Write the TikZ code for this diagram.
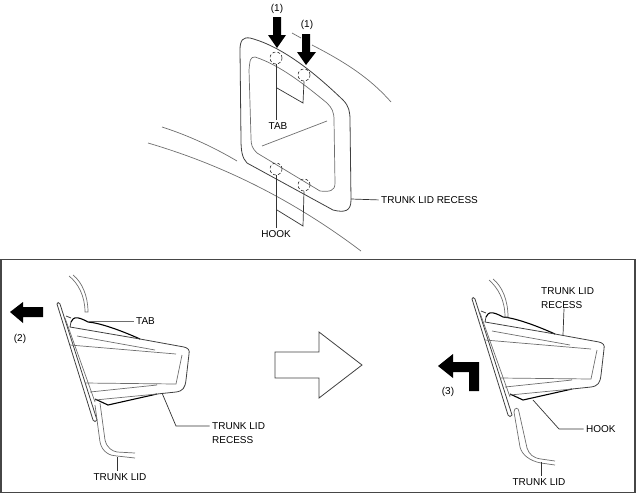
\documentclass[tikz,border=0pt]{standalone}
\usepackage{fontspec}
\setmainfont{Liberation Sans}
\usepackage{xcolor}
\usetikzlibrary{positioning}
\definecolor{lid_line}{RGB}{110, 110, 110}
\definecolor{frame_line}{RGB}{70, 70, 70}
\tikzset{
  lidline/.style={draw=lid_line, line width=0.7pt},
  partline/.style={draw=black!75, line width=0.8pt},
  heavyline/.style={draw=black, line width=1.1pt},
  leader/.style={draw=black!80, line width=0.7pt},
  textleader/.style={leader, shorten >=2.5pt},
  clipmark/.style={draw=black!80, densely dashed, line width=0.6pt},
  blockarrow/.style={fill=black, draw=none},
  lbl/.style={font=\fontsize{10}{12}\selectfont, inner sep=0pt, align=left},
  pics/recesspart/.style={code={
    % Flange
    \draw[partline] (57,304) .. controls (57,302) and (59,302) .. (60,304) -- (97,420)
      .. controls (96,422) and (94,422) .. (93,420) -- cycle;
    \draw[lidline] (65,318) -- (95,402);
    % Recess body
    \draw[heavyline] (71,322) -- (73,319) .. controls (75,317) and (79,317) .. (88,322)
      .. controls (100,323) and (120,330) .. (140,339);
    \draw[partline] (66,316) -- (71,318) (71,322) -- (70,327) -- (140,339) -- (184,347)
      .. controls (188,348) and (190,350) .. (189,354) -- (186,380)
      .. controls (185,388) and (183,391) .. (176,392) -- (157,394);
    \draw[heavyline] (157,394) -- (108,405) -- (95,399);
    \draw[lidline] (77,336) -- (155,350) (70,345) -- (176,354) (182,355) -- (176,384)
      -- (85,383) (90,392) -- (157,385) (95,400) -- (157,394);
  }}
}
\begin{document}
\begin{tikzpicture}[x=1pt, y=-1pt]
  \useasboundingbox (0,0) rectangle (636,496);

  % Trunk lid, upper view
  \draw[lidline] (292,33) -- (301,38);
  \draw[lidline] (312,45) .. controls (345,62) and (370,78) .. (391,102);
  \draw[lidline] (162,127) .. controls (190,136) and (215,148) .. (237,161);
  \draw[lidline] (148,143) .. controls (230,167) and (300,205) .. (361,251);

  % Recess outline
  \draw[partline] (240,50) .. controls (240,40) and (243,37) .. (250,38)
    .. controls (285,47) and (320,78) .. (343,100)
    .. controls (349,106) and (350,112) .. (350,120) -- (351,200)
    .. controls (351,211) and (345,213) .. (333,210)
    -- (247,163) .. controls (242,158) and (241,150) .. (241,140) -- cycle;
  \draw[lidline] (249,70) .. controls (250,60) and (250,57) .. (255,57)
    .. controls (280,65) and (305,85) .. (327,103)
    .. controls (332,108) and (334,112) .. (334,120) -- (335,183)
    .. controls (335,191) and (330,192) .. (320,191)
    -- (257,153) .. controls (252,148) and (251,145) .. (251,138) -- cycle;
  \draw[lidline] (262,146) -- (327,121);

  % Clip marks
  \foreach \n/\x/\y in {ta/276/58, tb/304/75, ha/276/169, hb/304/185} {
    \node[clipmark, circle, minimum size=12pt, inner sep=0pt] (\n) at (\x,\y) {};
  }

  % Push arrows
  \fill[blockarrow] (273,17) -- (281,17) -- (281,35) -- (286,35) -- (277,48) -- (268,35) -- (273,35) -- cycle;
  \fill[blockarrow] (302,34) -- (310,34) -- (310,52) -- (316,52) -- (306,65) -- (297,52) -- (302,52) -- cycle;
  \node[lbl] (pusha) at (277,9) {(1)};
  \node[lbl] (pushb) at (307,25) {(1)};

  % Upper labels
  \node[lbl] (tabtop) at (278,126) {TAB};
  \node[lbl] (hooktop) at (276,234) {HOOK};
  \node[lbl, anchor=west] (recesstop) at (381,200) {TRUNK LID RECESS};
  \coordinate (tabjoin) at (277,88);
  \coordinate (tabbend) at (303,103);
  \coordinate (hookjoin) at (277,210);
  \coordinate (hookbend) at (303,226);
  \coordinate (recessedge) at (351,199);
  \draw[textleader] (ta.south) -- (tabtop.north -| ta.south);
  \draw[leader] (tabjoin) -- (tabbend) -- (tb.south);
  \draw[textleader] (ha.south) -- (hooktop.north -| ha.south);
  \draw[leader] (hookjoin) -- (hookbend) -- (hb.south);
  \draw[textleader] (recessedge) -- (recesstop.west);

  % Frame
  \draw[frame_line, line width=1.3pt] (1,259.5) rectangle (635,492.5);

  % Left view
  \pic at (0,0) {recesspart};
  \draw[lidline] (69,276) .. controls (78,283) and (85,296) .. (85,312) -- (88,312)
    .. controls (88,296) and (82,282) .. (73,275);
  \draw[lidline] (95,405) -- (100,442) .. controls (102,452) and (110,456) .. (117,456) -- (135,458);
  \draw[lidline] (100,403) -- (105,440) .. controls (107,448) and (112,451) .. (117,452) -- (135,453);
  \fill[blockarrow] (10,312) -- (23,302) -- (23,307) -- (43,307) -- (43,317) -- (23,317) -- (23,323) -- cycle;
  \node[lbl] (pull) at (20,339) {(2)};
  \node[lbl, anchor=west] (tableft) at (136,321) {TAB};
  \node[lbl, anchor=west] (recessleft) at (212,433) {TRUNK LID\\[2pt]RECESS};
  \node[lbl] (lidleft) at (120,477) {TRUNK LID};
  \coordinate (tableftedge) at (88,321);
  \coordinate (recessleftedge) at (162,393);
  \coordinate (recessleftbend) at (176,426);
  \coordinate (lidleftedge) at (117,457);
  \draw[lidline, line width=1pt, shorten >=2.5pt] (tableftedge) -- (tableft.west);
  \draw[textleader] (recessleftedge) -- (recessleftbend) -- (recessleft.west |- recessleftbend);
  \draw[textleader] (lidleftedge) -- (lidleft.north -| lidleftedge);

  % Big arrow
  \draw[partline] (275,352) -- (319,352) -- (319,332) -- (362,365) -- (319,398) -- (319,378) -- (275,378) -- cycle;

  % Right view
  \pic at (415,-5) {recesspart};
  \draw[lidline] (489,280) .. controls (498,288) and (505,300) .. (505,317) -- (508,317)
    .. controls (508,300) and (502,286) .. (493,279);
  \draw[lidline] (514,412) .. controls (514,407) and (519,407) .. (519,412) -- (527,448)
    .. controls (529,454) and (533,458) .. (541,459) -- (555,461);
  \draw[lidline] (514,412) -- (520,447) .. controls (522,455) and (530,461) .. (541,463) -- (555,465);
  \fill[blockarrow] (438,366) -- (453,354) -- (453,362) -- (479,362) -- (479,391) -- (469,391) -- (469,372) -- (453,372) -- (453,378) -- cycle;
  \node[lbl] (turn) at (448,392) {(3)};
  \node[lbl, anchor=west] (recessright) at (541,298) {TRUNK LID\\[2pt]RECESS};
  \node[lbl, anchor=west] (hookright) at (586,429) {HOOK};
  \node[lbl] (lidright) at (539,482) {TRUNK LID};
  \coordinate (recessrightedge) at (563,335);
  \coordinate (hookrightedge) at (533,400);
  \coordinate (hookrightbend) at (559,429);
  \coordinate (lidrightedge) at (541,462);
  \draw[leader] (recessrightedge) -- (recessright.south -| 564,0);
  \draw[textleader] (hookrightedge) -- (hookrightbend) -- (hookright.west);
  \draw[textleader] (lidrightedge) -- (lidright.north -| lidrightedge);
\end{tikzpicture}
\end{document}
